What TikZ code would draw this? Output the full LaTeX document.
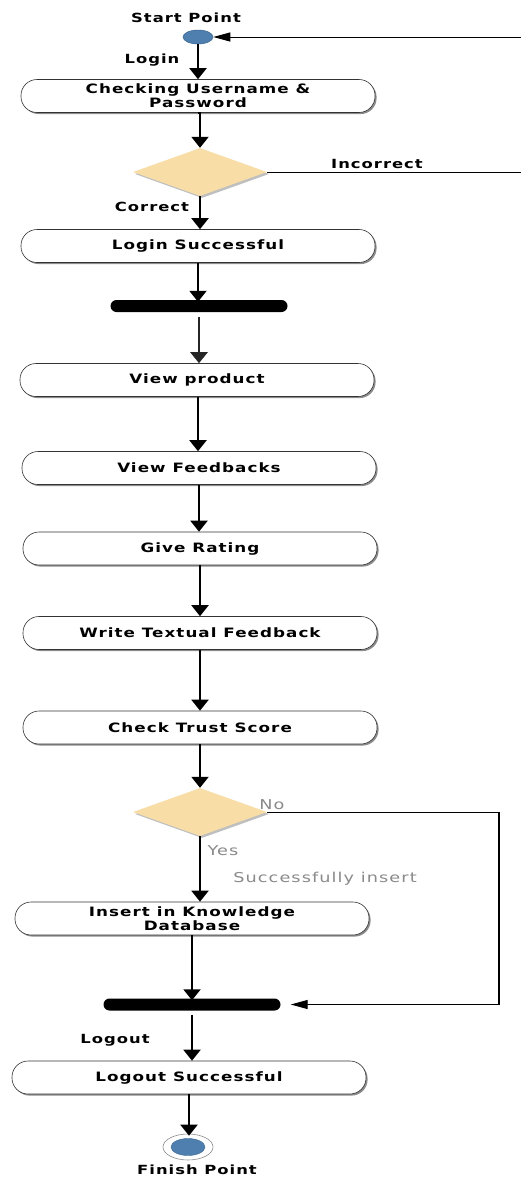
\documentclass[tikz,border=0pt]{standalone}
\usepackage{fontspec}
\usetikzlibrary{arrows.meta,shapes.geometric,shadows}
\newfontfamily\boldlbl{DejaVu Sans Bold}[FakeStretch=1.3,LetterSpace=8]
\newfontfamily\plainlbl{DejaVu Sans}[FakeStretch=1.3,LetterSpace=8]
\definecolor{diafill}{HTML}{F9DDA6}
\definecolor{dotfill}{HTML}{4F7FAE}
\definecolor{dotdraw}{HTML}{3A6590}
\definecolor{graytxt}{HTML}{8A8A8A}
\tikzset{
  actbox/.style={draw=black!80,line width=0.6pt,fill=white,rounded corners=16pt,
    minimum width=354pt,minimum height=33pt,inner sep=0pt,align=center,
    font=\boldlbl\fontsize{12.9}{12.5}\selectfont,
    drop shadow={shadow xshift=1.6pt,shadow yshift=-1.6pt,fill=black,opacity=0.45}},
  decide/.style={diamond,fill=diafill,draw=none,minimum width=134pt,minimum height=48pt,inner sep=0pt,
    drop shadow={shadow xshift=2pt,shadow yshift=-2pt,fill=black,opacity=0.25}},
  syncbar/.style={fill=black,rounded corners=6pt,minimum width=177pt,minimum height=12pt,inner sep=0pt},
  lbl/.style={font=\boldlbl\fontsize{12.6}{12}\selectfont,inner sep=0pt},
  glbl/.style={font=\plainlbl\fontsize{13.6}{12}\selectfont,text=graytxt,inner sep=0pt},
  flow/.style={line width=2pt,-{Triangle[width=17pt,length=11pt]}},
  back/.style={line width=1pt,-{Triangle[width=9pt,length=17pt]}},
}
\begin{document}
\begin{tikzpicture}[x=1pt,y=-1pt]
\useasboundingbox (0,0) rectangle (520,1178);
\fill[white] (0,0) rectangle (520,1178);

% start
\node[ellipse,fill=dotfill,draw=dotdraw,line width=0.5pt,minimum width=30pt,minimum height=14pt,inner sep=0pt] (start) at (198,37) {};
\node[lbl] (startlbl) at (186,18) {Start Point};

\node[actbox] (check) at (198,96) {Checking Username \&\\[0.5pt]Password};
\node[decide] (d1) at (200,172) {};
\node[actbox] (loginok) at (198,246) {Login Successful};
\node[syncbar] (bar1) at (199,306) {};
\node[actbox] (view) at (197,380) {View product};
\node[actbox] (feed) at (199,468) {View Feedbacks};
\node[actbox] (rating) at (200,548.5) {Give Rating};
\node[actbox] (write) at (200,633) {Write Textual Feedback};
\node[actbox] (trust) at (200,727.5) {Check Trust Score};
\node[decide] (d2) at (200,812) {};
\node[actbox] (insert) at (192,918.5) {Insert in Knowledge\\[0.5pt]Database};
\node[syncbar] (bar2) at (192,1004.5) {};
\node[actbox] (logout) at (189,1077.5) {Logout Successful};

% finish
\node[ellipse,fill=white,draw=black!45,line width=0.6pt,minimum width=50pt,minimum height=26pt,inner sep=0pt] (finish) at (188,1147) {};
\node[ellipse,fill=dotfill,draw=dotdraw,line width=0.4pt,minimum width=34pt,minimum height=17pt,inner sep=0pt] (finishdot) at (finish.center) {};
\node[lbl] (finishlbl) at (197,1170) {Finish Point};

% connectors
\draw[flow] (start.south) -- (start.south |- check.north);
\draw[flow] (check.south) -- (check.south -| d1.north) -- (d1.north);
\draw[flow] (d1.south) -- (d1.south |- loginok.north);
\draw[flow] (loginok.south) -- ([yshift=-2pt]loginok.south |- bar1.north);
\draw[flow,black!85,line width=2.4pt] ([yshift=-5pt]bar1.south) -- (bar1.south |- view.north);
\draw[flow] ([xshift=1pt]view.south) -- ([xshift=1pt]view.south |- feed.north);
\draw[flow] (feed.south) -- (feed.south |- rating.north);
\draw[flow] (rating.south) -- (rating.south |- write.north);
\draw[flow] (write.south) -- (write.south |- trust.north);
\draw[flow] (trust.south) -- (trust.south |- d2.north);
\draw[flow] (d2.south) -- (d2.south |- insert.north);
\draw[flow] (insert.south) -- ([yshift=-2pt]insert.south |- bar2.north);
\draw[flow] ([yshift=-4pt]bar2.south) -- (bar2.south |- logout.north);
\draw[flow] (logout.south) -- ([yshift=-2pt]logout.south |- finish.north);

\coordinate (loopA) at (522,172);
\coordinate (loopB) at (522,37);
\draw[back] (d1.east) -- (loopA) -- (loopB) -- (start.east);
\coordinate (loopC) at (498.5,812);
\coordinate (loopD) at (498.5,1004.5);
\draw[line width=1pt] (d2.east) -- (loopC);
\draw[line width=2pt] ([yshift=0.5pt]loopC) -- (loopD);
\draw[back,shorten >=10pt] (loopD) -- (bar2.east);

% labels
\node[lbl] (loginlbl) at (152,60) {Login};
\node[lbl] (correctlbl) at (152,207) {Correct};
\node[lbl] (incorrectlbl) at (377,164) {Incorrect};
\node[lbl] (logoutlbl) at (115,1040) {Logout};
\node[glbl] (nolbl) at (272,805) {No};
\node[glbl] (yeslbl) at (223,851) {Yes};
\node[glbl] (inslbl) at (325,879) {Successfully insert};
\end{tikzpicture}
\end{document}
